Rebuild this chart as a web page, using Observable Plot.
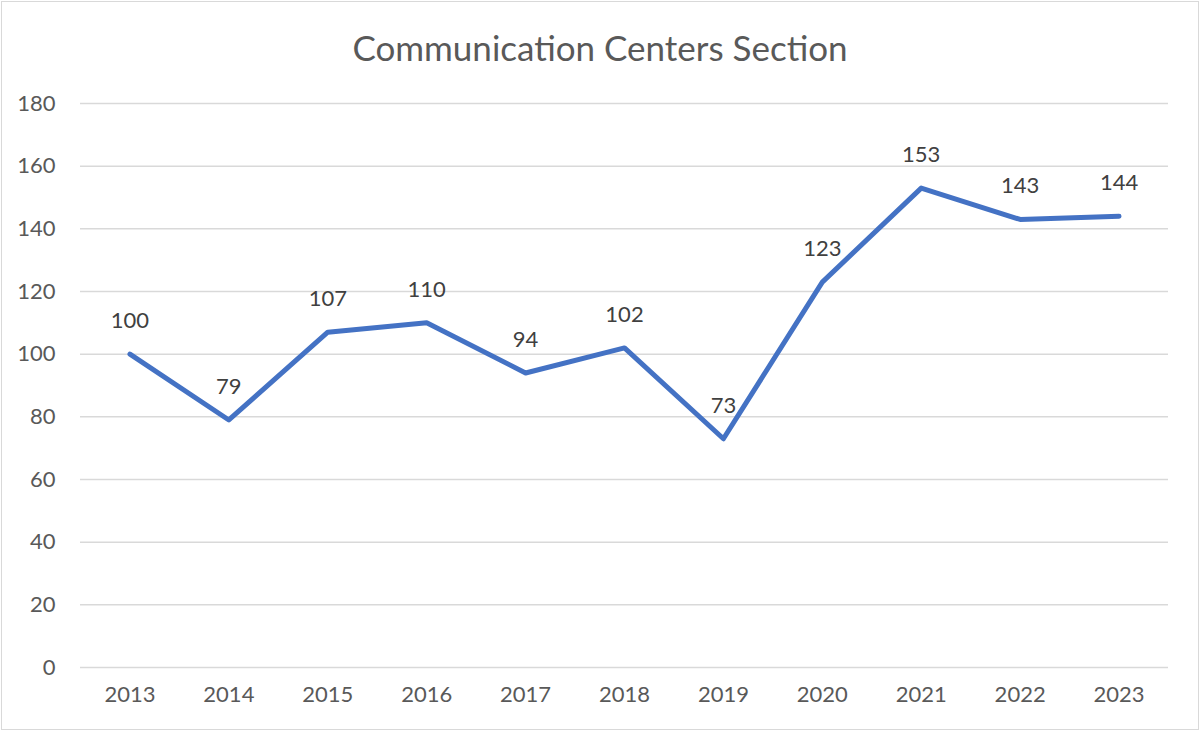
<!DOCTYPE html>
<html>
<head>
<meta charset="utf-8">
<script src="https://cdn.jsdelivr.net/npm/d3@7"></script>
<script src="https://cdn.jsdelivr.net/npm/@observablehq/plot@0.6"></script>
<style>
  html, body { margin: 0; padding: 0; background: #fff; }
  #wrap { position: relative; width: 1200px; height: 732px; background: #fff; overflow: hidden; }
  #frame { position: absolute; left: 1px; top: 1px; width: 1196px; height: 727px; border: 1.5px solid #d9d9d9; pointer-events: none; }
  #title { position: absolute; left: 0; top: 24px; width: 1200px; text-align: center; font-family: Lato, "Open Sans", sans-serif; font-size: 35px; color: #595959; line-height: 46px; }
  #chart { position: absolute; left: 0; top: 80px; }
</style>
</head>
<body>
<div id="wrap">
  <div id="title">Communication Centers Section</div>
  <div id="chart"></div>
  <div id="frame"></div>
</div>
<script>
const years = ["2013","2014","2015","2016","2017","2018","2019","2020","2021","2022","2023"];
const values = [100, 79, 107, 110, 94, 102, 73, 123, 153, 143, 144];
const yTicks = [0, 20, 40, 60, 80, 100, 120, 140, 160, 180];

const data = years.map((y, i) => ({year: y, value: values[i]}));

const chart = Plot.plot({
  width: 1200,
  height: 640,
  marginTop: 23,
  marginBottom: 53,
  marginLeft: 80,
  marginRight: 32,
  style: {fontFamily: "Lato, 'Open Sans', sans-serif", fontSize: "22px", color: "#595959", background: "transparent"},
  x: {type: "band", domain: years, padding: 0, round: false, label: null},
  y: {domain: [0, 180], label: null},
  marks: [
    Plot.gridY(yTicks, {stroke: "#d9d9d9", strokeOpacity: 1, strokeWidth: 1.5}),
    Plot.axisY(yTicks, {tickSize: 0, tickPadding: 25, fill: "#595959", fontSize: 22}),
    Plot.axisX({tickSize: 0, tickPadding: 19, fill: "#595959", fontSize: 22}),
    Plot.line(data, {x: "year", y: "value", stroke: "#4472C4", strokeWidth: 5, strokeLinejoin: "round", strokeLinecap: "round"}),
    Plot.text(data, {x: "year", y: "value", text: d => String(d.value), dy: -33, fill: "#404040", fontSize: 22})
  ]
});
document.getElementById("chart").appendChild(chart);
</script>
</body>
</html>
